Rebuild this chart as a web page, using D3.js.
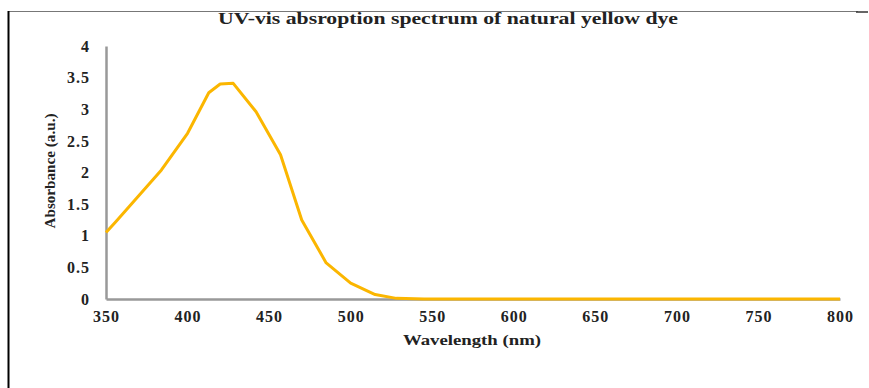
<!DOCTYPE html>
<html>
<head>
<meta charset="utf-8">
<script src="https://cdn.jsdelivr.net/npm/d3@7"></script>
<style>
  body { margin: 0; background: #fff; }
  text { font-family: "Liberation Serif", "DejaVu Serif", serif; font-weight: bold; fill: #222; }
</style>
</head>
<body>
<svg id="chart" width="869" height="388"></svg>
<script>
// spectrum
const wavelength = [350, 356, 384, 400, 413, 420, 428, 442, 457, 470, 485, 500, 515, 528, 545, 600, 650, 700, 750, 800];
const absorbance = [1.05, 1.22, 2.04, 2.62, 3.26, 3.40, 3.41, 2.96, 2.28, 1.25, 0.57, 0.25, 0.07, 0.01, 0, 0, 0, 0, 0, 0];

const xTicks = [350, 400, 450, 500, 550, 600, 650, 700, 750, 800];
const yTicks = [0, 0.5, 1, 1.5, 2, 2.5, 3, 3.5, 4];

const title = "UV-vis absroption spectrum of natural yellow dye";
const xTitle = "Wavelength (nm)";
const yTitle = "Absorbance (a.u.)";

const margin = {top: 46, right: 29, bottom: 89, left: 106};
const width = 869, height = 388;

const svg = d3.select("#chart");

// outer frame (only top and left edges show)
svg.append("line")
   .attr("x1", 8).attr("x2", 858).attr("y1", 11.5).attr("y2", 11.5)
   .attr("stroke", "#777").attr("stroke-width", 1);
svg.append("line")
   .attr("x1", 856).attr("x2", 868).attr("y1", 12).attr("y2", 12)
   .attr("stroke", "#333").attr("stroke-width", 1.5);
svg.append("line")
   .attr("x1", 8.5).attr("x2", 8.5).attr("y1", 11).attr("y2", 388)
   .attr("stroke", "#000").attr("stroke-width", 2);

const x = d3.scaleLinear()
            .domain([350, 800])
            .range([margin.left, width - margin.right]);

const y = d3.scaleLinear()
            .domain([0, 4])
            .range([height - margin.bottom, margin.top]);

// axes
const xAxis = svg.append("g")
                 .attr("transform", `translate(0,${y(0)})`)
                 .call(d3.axisBottom(x).tickValues(xTicks).tickSize(0).tickPadding(12).tickFormat(d3.format("d")));
xAxis.select(".domain").attr("stroke", "#999").attr("stroke-width", 2.5);
xAxis.selectAll("text").attr("font-size", 16).attr("letter-spacing", 1).attr("font-family", null).attr("fill", "#222");

const yAxis = svg.append("g")
                 .attr("transform", `translate(${x(350)},0)`)
                 .call(d3.axisLeft(y).tickValues(yTicks).tickSize(0).tickPadding(16).tickFormat(d => String(d)));
yAxis.select(".domain").attr("stroke", "#999").attr("stroke-width", 2.5);
yAxis.selectAll("text").attr("font-size", 16).attr("letter-spacing", 1).attr("font-family", null).attr("fill", "#222");

// spectrum
const line = d3.line()
               .x((d, i) => x(wavelength[i]))
               .y(d => y(d));

svg.append("path")
   .datum(absorbance)
   .attr("fill", "none")
   .attr("stroke", "#FBB600")
   .attr("stroke-width", 3)
   .attr("stroke-linejoin", "round")
   .attr("d", line);

// titles
svg.append("text")
   .attr("x", 448).attr("y", 24)
   .attr("text-anchor", "middle")
   .attr("font-size", 16)
   .attr("textLength", 460)
   .attr("lengthAdjust", "spacingAndGlyphs")
   .text(title);

svg.append("text")
   .attr("x", 472).attr("y", 345)
   .attr("text-anchor", "middle")
   .attr("font-size", 14)
   .attr("textLength", 138)
   .attr("lengthAdjust", "spacingAndGlyphs")
   .text(xTitle);

svg.append("text")
   .attr("transform", "translate(55,171) rotate(-90)")
   .attr("text-anchor", "middle")
   .attr("font-size", 14)
   .attr("textLength", 115)
   .attr("lengthAdjust", "spacingAndGlyphs")
   .text(yTitle);
</script>
</body>
</html>
